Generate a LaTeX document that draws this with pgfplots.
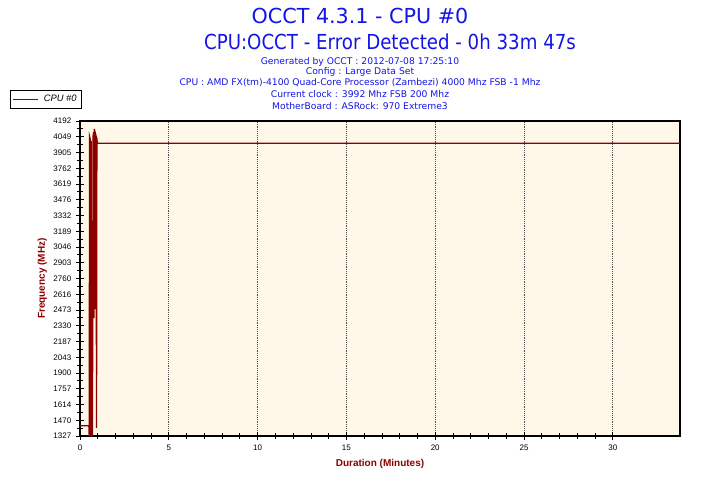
\documentclass[border=0pt]{standalone}
\usepackage{fontspec}
\setmainfont{Liberation Sans}
\newfontfamily\titlefont{DejaVu Sans}
\usepackage{graphicx}
\usepackage{pgfplots}
\pgfplotsset{compat=1.18}
\definecolor{occtred}{RGB}{140,0,0}
\definecolor{occtblue}{RGB}{20,20,230}
\definecolor{occtbg}{RGB}{255,248,232}
\begin{document}
\begin{tikzpicture}
\useasboundingbox (-60pt,-32.25pt) rectangle (480pt,327pt);
\begin{axis}[
  at={(0,0)}, anchor=south west,
  scale only axis, width=450pt, height=236.25pt,
  xmin=0, xmax=33.78, ymin=1327, ymax=4192,
  axis background/.style={fill=occtbg},
  axis line style={black, line width=0.8pt},
  xtick={0,5,10,15,20,25,30},
  minor x tick num=4,
  ytick={1327,1470.25,1613.5,1756.75,1900,2043.25,2186.5,2329.75,2473,2616.25,2759.5,2902.75,3046,3189.25,3332.5,3475.75,3619,3762.25,3905.5,4048.75,4192},
  yticklabels={1327,1470,1614,1757,1900,2043,2187,2330,2473,2616,2760,2903,3046,3189,3332,3476,3619,3762,3905,4049,4192},
  minor y tick num=1,
  xtick pos=bottom, ytick pos=left,
  tick align=center,
  major tick length=6pt, minor tick length=4pt,
  tick style={black, line width=0.6pt},
  xmajorgrids, major grid style={densely dotted, black!70, line width=0.6pt},
  /pgf/number format/assume math mode=true,
  ticklabel style={font=\fontsize{6}{7}\selectfont},
  xlabel={Duration (Minutes)}, ylabel={Frequency (MHz)},
  xlabel style={font=\bfseries\fontsize{7.5}{9}\selectfont, text=occtred, at={(axis description cs:0.5,-0.089)}, anchor=center},
  ylabel style={font=\bfseries\fontsize{7.5}{9}\selectfont, text=occtred, at={(axis description cs:-0.063,0.5)}, anchor=center},
  legend style={at={(axis description cs:-0.117,1.098)}, anchor=north west, draw=black, fill=white, font=\itshape\fontsize{7}{8}\selectfont, inner sep=1.5pt, row sep=0pt, line width=0.6pt},
  legend image code/.code={\draw[occtred, line width=0.8pt] (0pt,0pt) -- (19pt,0pt);},
  legend cell align=left,
]
\addplot[occtred, line width=1pt] coordinates {
(0,1420) (0.50,1420) (0.52,1327) (0.54,4050) (0.57,4030) (0.60,1327) (0.63,4010)
(0.66,1327) (0.70,1327) (0.74,4060) (0.77,4090) (0.79,2400) (0.81,4120) (0.84,4050)
(0.86,2480) (0.88,4070) (0.91,4050) (0.93,1400) (0.95,4040) (0.97,3990) (33.78,3990)
};
\addlegendentry{\hspace{2pt}CPU \#0\hspace{3pt}}
\end{axis}
\node[font=\titlefont\fontsize{15.5}{18}\selectfont, text=occtblue] at (210pt,315pt) {OCCT 4.3.1 - CPU \#0};
\node[font=\titlefont\fontsize{15.5}{18}\selectfont, text=occtblue] at (232.5pt,295.5pt) {\scalebox{0.88}[1]{CPU:OCCT - Error Detected - 0h 33m 47s}};
\node[font=\titlefont\fontsize{6.9}{7}\selectfont, text=occtblue, inner sep=0pt] at (210pt,280.5pt) {Generated by OCCT : 2012-07-08 17:25:10};
\node[font=\titlefont\fontsize{6.9}{7}\selectfont, text=occtblue, inner sep=0pt] at (210pt,273pt) {Config : Large Data Set};
\node[font=\titlefont\fontsize{6.9}{7}\selectfont, text=occtblue, inner sep=0pt] at (210pt,264.75pt) {CPU : AMD FX(tm)-4100 Quad-Core Processor (Zambezi) 4000 Mhz FSB -1 Mhz};
\node[font=\titlefont\fontsize{6.9}{7}\selectfont, text=occtblue, inner sep=0pt] at (210pt,256.5pt) {Current clock : 3992 Mhz FSB 200 Mhz};
\node[font=\titlefont\fontsize{6.9}{7}\selectfont, text=occtblue, inner sep=0pt] at (210pt,247.5pt) {MotherBoard : ASRock: 970 Extreme3};
\end{tikzpicture}
\end{document}
